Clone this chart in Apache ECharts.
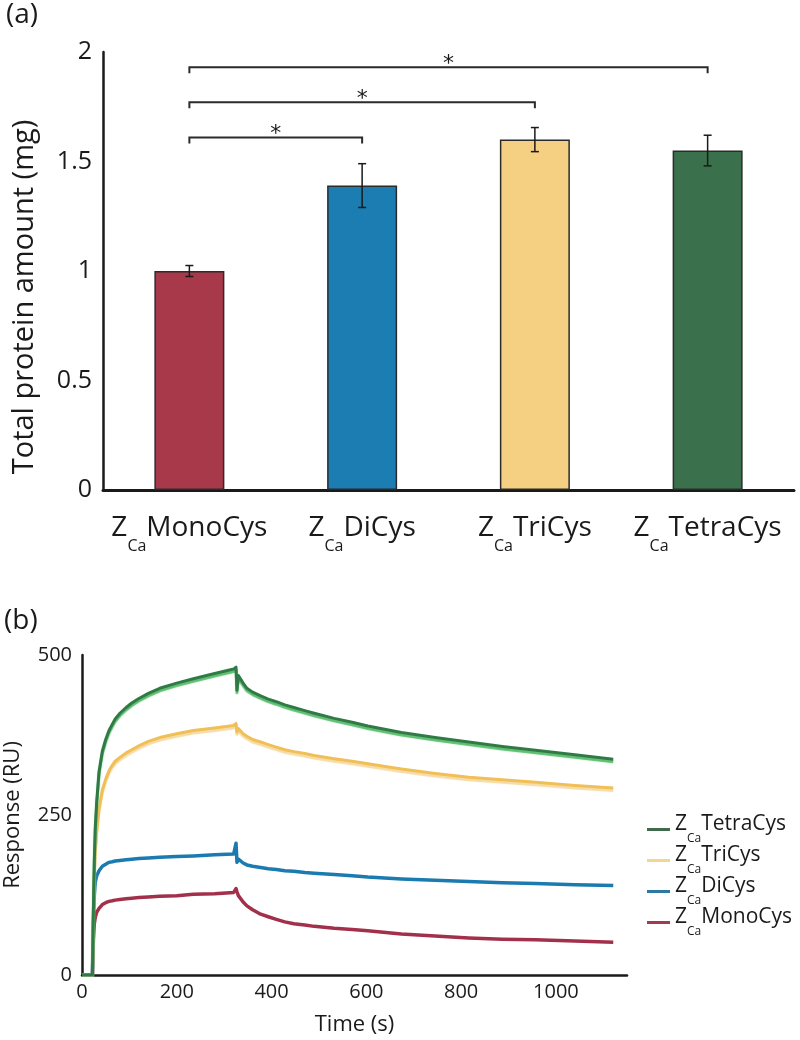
<!DOCTYPE html>
<html><head><meta charset="utf-8">
<script src="https://cdn.jsdelivr.net/npm/echarts@6/dist/echarts.min.js"></script>
<style>html,body{margin:0;padding:0;background:#fff}#c{width:800px;height:1040px}</style>
</head><body><div id="c"></div>
<script>
// ---- Panel (a) data ----
const categories = ['MonoCys', 'DiCys', 'TriCys', 'TetraCys'];
const amounts = [1.00, 1.39, 1.60, 1.55];
const amountErrors = [0.025, 0.10, 0.055, 0.07];
const barColors = ['#a8394b', '#1b7db2', '#f5d083', '#3a714c'];
// significance brackets: [from category, to category, height (mg)]
const brackets = [[0, 1, 1.61], [0, 2, 1.77], [0, 3, 1.93]];
const bracketLabels = ['*', '*', '*'];
const yTicksA = [0, 0.5, 1, 1.5, 2];

// ---- Panel (b) data ----
const seriesNames = ['TetraCys', 'TriCys', 'DiCys', 'MonoCys'];
const time     = [0, 22, 24, 26, 28, 31, 36, 43, 50, 57, 64, 70, 80, 93, 105, 120, 140, 164, 200, 235, 280, 320, 325, 327, 330, 340, 348, 360, 377, 393, 410, 428, 447, 470, 490, 532, 570, 603, 674, 745, 816, 887, 957, 1040, 1121];
const tetraCys = [0, 0, 100, 180, 230, 270, 318, 350, 368, 382, 392, 400, 409, 418, 425, 432, 440, 448, 456, 463, 471, 478, 481, 445, 468, 456, 448, 442, 436, 431, 427, 422, 418, 413, 409, 401, 395, 389, 379, 371, 364, 357, 351, 344, 337];
const triCys   = [0, 0, 100, 160, 195, 225, 260, 289, 306, 319, 328, 334, 340, 347, 352, 358, 365, 371, 377, 382, 386, 390, 393, 380, 385, 377, 373, 368, 364, 360, 356, 352, 349, 346, 343, 338, 334, 330, 322, 315, 309, 305, 301, 296, 292];
const diCys    = [0, 0, 80, 125, 145, 155, 163, 170, 173, 176, 177, 178, 179, 180, 181, 182, 183, 184, 185, 186, 188, 189, 206, 176, 181, 175, 172, 170, 168, 166, 165, 163, 162, 160, 159, 157, 155, 153, 150, 148, 146, 144, 143, 141, 140];
const monoCys  = [0, 0, 55, 80, 90, 98, 104, 110, 113, 115, 116, 117, 118, 119, 120, 121, 122, 123, 124, 126, 127, 129, 135, 130, 124, 114, 108, 102, 95, 91, 87, 83, 80, 78, 76, 73, 71, 69, 64, 61, 58, 56, 55, 53, 51];
const xTicksB = [0, 200, 400, 600, 800, 1000];
const yTicksB = [0, 250, 500];

const FONT = 'Open Sans';
const pairs = arr => time.map((t, i) => [t, arr[i]]);

const chart = echarts.init(document.getElementById('c'), null, {renderer: 'canvas'});

const lineDefs = [
  {name: 'MonoCys', data: monoCys, color: '#a3304a', legend: '#a33b50', shadow: null, width: 3.5},
  {name: 'DiCys', data: diCys, color: '#1b7bb0', legend: '#2b7aa6', shadow: null, width: 3.5},
  {name: 'TriCys', data: triCys, color: '#f0bf55', legend: '#f2d58e', shadow: '#f6dba6', width: 3},
  {name: 'TetraCys', data: tetraCys, color: '#2f7a45', legend: '#3d6b4c', shadow: '#5cbf6e', width: 3}
];

const option = {
  animation: false,
  backgroundColor: '#ffffff',
  textStyle: {fontFamily: FONT, color: '#1a1a1a'},
  grid: [
    {left: 103, right: 6, top: 52, height: 438, outerBoundsMode: 'none'},
    {left: 82, width: 545, top: 655, height: 320, outerBoundsMode: 'none'}
  ],
  xAxis: [
    {
      type: 'category', gridIndex: 0, data: categories,
      axisLine: {lineStyle: {color: '#1a1a1a', width: 3}},
      axisTick: {show: false},
      axisLabel: {
        margin: 24, interval: 0,
        formatter: v => '{z|Z}{s|Ca}{z|' + v + '}',
        rich: {
          z: {fontFamily: FONT, fontSize: 28, lineHeight: 34, verticalAlign: 'top', color: '#1a1a1a'},
          s: {fontFamily: FONT, fontSize: 16, lineHeight: 12, padding: [24, 0, 0, 0], verticalAlign: 'top', color: '#1a1a1a'}
        }
      },
      splitLine: {show: false}
    },
    {
      type: 'value', gridIndex: 1, min: 0, max: 1150, interval: 200,
      name: 'Time (s)', nameLocation: 'middle', nameGap: 39,
      nameTextStyle: {fontFamily: FONT, fontSize: 22, color: '#1a1a1a'},
      axisLine: {lineStyle: {color: '#1a1a1a', width: 2.5}},
      axisTick: {show: false},
      axisLabel: {margin: 7, fontFamily: FONT, fontSize: 20, color: '#1a1a1a',
        formatter: v => xTicksB.indexOf(v) >= 0 ? String(v) : ''},
      splitLine: {show: false}
    }
  ],
  yAxis: [
    {
      type: 'value', gridIndex: 0, min: 0, max: 2, interval: 0.5,
      axisLine: {show: true, lineStyle: {color: '#1a1a1a', width: 2.5}},
      axisTick: {show: false},
      axisLabel: {margin: 11, fontFamily: FONT, fontSize: 25, color: '#1a1a1a',
        formatter: v => yTicksA.indexOf(v) >= 0 ? String(v) : ''},
      splitLine: {show: false}
    },
    {
      type: 'value', gridIndex: 1, min: 0, max: 500, interval: 250,
      name: 'Response (RU)', nameLocation: 'middle', nameGap: 58, nameRotate: 90,
      nameTextStyle: {fontFamily: FONT, fontSize: 22, color: '#1a1a1a'},
      axisLine: {show: true, lineStyle: {color: '#1a1a1a', width: 2.5}},
      axisTick: {show: false},
      axisLabel: {margin: 10, fontFamily: FONT, fontSize: 20, color: '#1a1a1a',
        formatter: v => yTicksB.indexOf(v) >= 0 ? String(v) : ''},
      splitLine: {show: false}
    }
  ],
  legend: {
    orient: 'vertical', left: 642, top: 809, itemWidth: 23, itemHeight: 3, itemGap: 0,
    icon: 'rect', selectedMode: false,
    data: seriesNames.map(n => ({name: n, itemStyle: {color: lineDefs.find(d => d.name === n).legend}})),
    formatter: n => '{z|Z}{s|Ca}{z|' + n + '}',
    textStyle: {
      rich: {
        z: {fontFamily: FONT, fontSize: 21, lineHeight: 31, verticalAlign: 'top', color: '#1a1a1a'},
        s: {fontFamily: FONT, fontSize: 12, lineHeight: 12, padding: [19, 0, 0, 0], verticalAlign: 'top', color: '#1a1a1a'}
      }
    }
  },
  graphic: [
    {type: 'text', left: 6, top: 1, style: {text: '(a)', font: '28px "Open Sans"', fill: '#1a1a1a'}},
    {type: 'text', left: 4, top: 607, style: {text: '(b)', font: '28px "Open Sans"', fill: '#1a1a1a'}},
    {type: 'text', x: 25, y: 297, rotation: Math.PI / 2,
      style: {text: 'Total protein amount (mg)', font: '29px "Open Sans"', fill: '#1a1a1a', align: 'center', verticalAlign: 'middle'}}
  ],
  series: [
    {
      type: 'bar', xAxisIndex: 0, yAxisIndex: 0, barWidth: 70,
      data: amounts.map((v, i) => ({value: v, itemStyle: {color: barColors[i], borderColor: '#2b2b2b', borderWidth: 1.5}})),
      z: 2
    },
    {
      type: 'custom', xAxisIndex: 0, yAxisIndex: 0, z: 3,
      data: amounts.map((v, i) => [i, v - amountErrors[i], v + amountErrors[i]]),
      renderItem: (params, api) => {
        const lo = api.coord([api.value(0), api.value(1)]);
        const hi = api.coord([api.value(0), api.value(2)]);
        const w = 4;
        const st = {stroke: '#1a1a1a', lineWidth: 1.5, fill: 'none'};
        return {type: 'group', children: [
          {type: 'line', shape: {x1: lo[0], y1: lo[1], x2: hi[0], y2: hi[1]}, style: st},
          {type: 'line', shape: {x1: lo[0] - w, y1: lo[1], x2: lo[0] + w, y2: lo[1]}, style: st},
          {type: 'line', shape: {x1: hi[0] - w, y1: hi[1], x2: hi[0] + w, y2: hi[1]}, style: st}
        ]};
      }
    },
    {
      type: 'custom', xAxisIndex: 0, yAxisIndex: 0, z: 3,
      data: brackets,
      renderItem: (params, api) => {
        const a = api.coord([api.value(0), api.value(2)]);
        const b = api.coord([api.value(1), api.value(2)]);
        const d = 6;
        return {type: 'group', children: [
          {type: 'polyline', shape: {points: [[a[0], a[1] + d], [a[0], a[1]], [b[0], b[1]], [b[0], b[1] + d]]},
            style: {stroke: '#2b2b2b', lineWidth: 2, fill: 'none'}},
          {type: 'text', x: (a[0] + b[0]) / 2, y: a[1] + 8,
            style: {text: bracketLabels[params.dataIndex], font: '22px "DejaVu Sans"', fill: '#1a1a1a', align: 'center', verticalAlign: 'bottom'}}
        ]};
      }
    }
  ].concat(lineDefs.map(d => ({
    type: 'line', name: d.name, xAxisIndex: 1, yAxisIndex: 1,
    data: pairs(d.data), showSymbol: false, symbol: 'none',
    itemStyle: {color: d.legend},
    lineStyle: Object.assign({color: d.color, width: d.width, join: 'round'},
      d.shadow ? {shadowColor: d.shadow, shadowOffsetY: 2.5, shadowBlur: 1} : {})
  })))
};
chart.setOption(option);
</script>
</body></html>
